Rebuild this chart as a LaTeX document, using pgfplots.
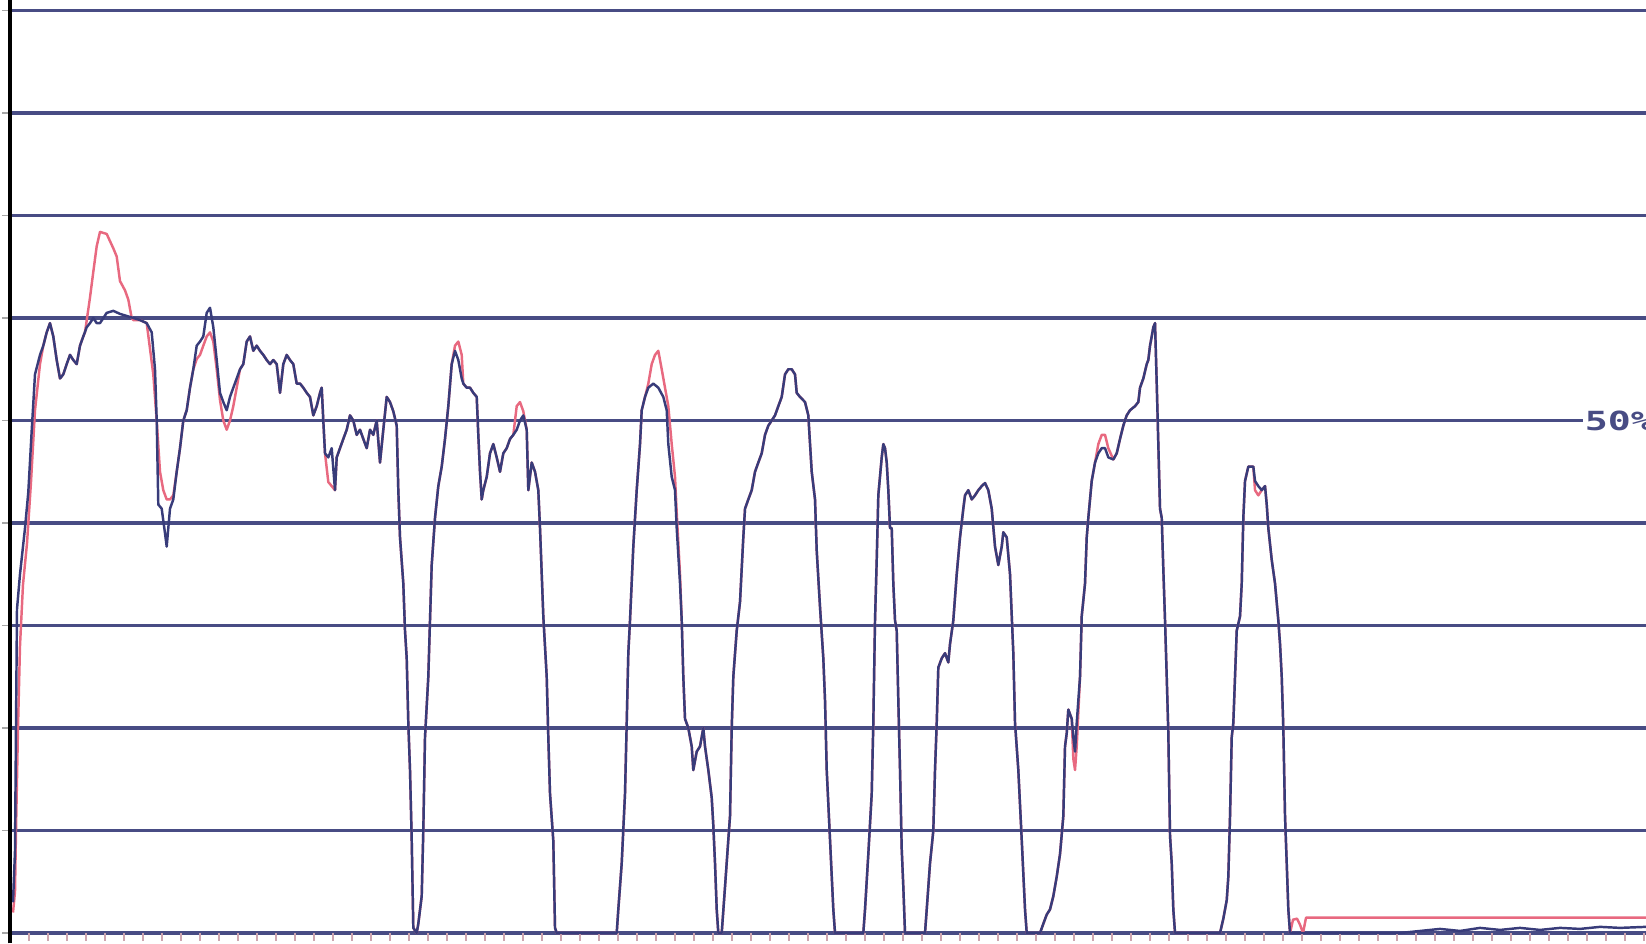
\documentclass[border=0pt]{standalone}
\usepackage{pgfplots}
\pgfplotsset{compat=1.18}
\usepackage{pgfplotstable}
\usepackage{graphicx}
\usepackage{fontspec}
\newfontfamily\labelfont{DejaVu Sans Mono}
\definecolor{gridc}{RGB}{72,76,132}
\definecolor{bluec}{RGB}{56,60,122}
\definecolor{redc}{RGB}{232,105,128}
\definecolor{tickc}{RGB}{205,165,175}

\pgfplotstableread{
x y
13 3
15 8
16 20
17 31.6
20 35
25 39.5
28.3 43
31.7 49
35 54.5
40 56.4
43.3 57.3
46.7 58.6
50 59.5
53.3 58.2
56.7 55.9
60 54.1
63.3 54.5
66.7 55.5
70 56.4
73.3 55.9
76.7 55.5
80 57.3
83.3 58.2
86.7 59.1
90 59.5
93.3 60
96.7 59.5
100 59.5
106.7 60.5
113.3 60.7
120 60.4
126.7 60.2
133.3 60
140 59.8
146.7 59.5
151.7 58.6
155 55
156.7 50
158.3 41.8
161.7 41.4
165 39
166.7 37.7
170 41.4
173.3 42.3
176.7 45
180 47.3
183.3 50
186.7 51
190 53.2
193.3 55
196.7 57.3
200 57.7
203.3 58.2
206.7 60.5
210 61
213.3 59.1
216.7 55.9
220 52.7
223.3 51.8
226.7 51
230 52.3
233.3 53.2
236.7 54.1
240 55
243.3 55.5
246.7 57.7
250 58.2
253.3 56.8
256.7 57.3
260 56.8
263.3 56.4
266.7 55.9
270 55.5
273.3 55.9
276.7 55.5
280 52.7
283.3 55.5
286.7 56.4
290 55.9
293.3 55.5
296.7 53.6
300 53.6
303.3 53.2
306.7 52.7
310 52.3
313.3 50.5
316.7 51.4
320 52.7
321.7 53.2
323.3 50
325 46.8
328.3 46.4
331.7 47.3
335 43.2
336.7 46.4
340 47.3
343.3 48.2
346.7 49.1
350 50.5
353.3 50
356.7 48.6
360 49.1
363.3 48.2
366.7 47.3
370 49.1
373.3 48.6
376.7 50
380 45.9
383.3 49.1
386.7 52.3
390 51.8
393.3 50.9
396.7 49.5
398.3 43.2
400 38.6
403.3 34.1
405 29.5
406.7 26.8
408.3 20.5
410 15.9
411.7 9.1
413.3 0.5
416.7 0
418.3 0.9
421.7 3.6
423.3 10
425 19.1
428.3 25
430 30.5
431.7 35.9
435 40.5
438.3 43.6
441.7 45.5
445 48.2
448.3 51.4
451.7 55.5
455 56.8
458.3 55.9
461.7 54.1
463.3 53.6
466.7 53.2
470 53.2
473.3 52.7
476.7 52.3
478.3 48.6
480 45
481.7 42.3
483.3 43.2
486.7 44.5
490 46.8
493.3 47.7
496.7 46.4
500 45
503.3 46.8
506.7 47.3
510 48.2
513.3 48.6
516.7 49.1
520 50
523.3 50.5
526.7 49.1
528.3 43.2
531.7 45.9
535 45
538.3 43.2
540 39.5
543.3 30.9
546.7 25
548.3 19.1
550 13.6
553.3 9
555 0.5
556.7 0
616.7 0
618.3 2.3
621.7 6.8
625 13.6
626.7 20.5
628.3 27.3
630 30.5
633.3 37.7
636.7 43.2
640 47.7
641.7 51
645 52.3
648.3 53.2
653.3 53.6
658.3 53.2
663.3 52.3
666.7 51
668.3 47.7
671.7 44.5
675 43.2
676.7 39.5
680 34.1
681.7 30.5
683.3 25
685 20.9
688.3 20
691.7 18.2
693.3 15.9
696.7 17.7
700 18.2
703.3 20
705 18.2
708.3 15.9
711.7 13.2
713.3 10.5
715 6.8
716.7 2.3
718.3 0
721.7 0
725 4.5
728.3 9.1
730 11.4
731.7 20
733.3 25
736.7 29.5
740 32.3
743.3 38.6
745 41.4
748.3 42.3
751.7 43.2
755 45
758.3 45.9
761.7 46.8
765 48.6
768.3 49.5
771.7 50
775 50.5
778.3 51.4
781.7 52.3
785 54.5
788.3 55
791.7 55
795 54.5
796.7 52.7
800 52.3
805 51.8
808.3 50.5
811.7 45
815 42.3
816.7 37.3
820 31.8
823.3 26.8
825 22.7
826.7 15.9
830 9.1
833.3 2.3
835 0
863.3 0
865 2.3
868.3 7.7
871.7 13.6
873.3 20.5
875 30.5
876.7 36.4
878.3 42.7
881.7 46.4
883.3 47.7
885 47.3
886.7 45.9
888.3 43.2
890 39.5
891.7 39.5
893.3 34.1
895 30.5
896.7 29.5
898.3 22.7
900 15.9
901.7 8.2
903.3 4.5
905 0
925 0
926.7 2.3
930 6.8
933.3 10
935 15.9
936.7 20.5
938.3 25.9
941.7 26.8
945 27.3
948.3 26.4
950 28.2
953.3 30.5
956.7 35
960 38.6
963.3 41.4
965 42.7
968.3 43.2
971.7 42.3
975 42.7
978.3 43.2
981.7 43.6
985 43.9
988.3 43.2
991.7 41.4
995 37.7
998.3 35.9
1001.7 37.7
1003.3 39.1
1006.7 38.6
1010 35
1011.7 31
1013.3 27.3
1015 20.5
1018.3 15.9
1021.7 9.1
1025 2.3
1026.7 0
1040 0
1043.3 0.9
1046.7 1.8
1050 2.3
1053.3 3.6
1056.7 5.5
1060 7.7
1063.3 11.4
1065 18.2
1066.7 19.5
1068.3 21.8
1071.7 20.9
1073.3 19.1
1075 17.7
1076.7 20.5
1080 25
1081.7 30.9
1085 34.1
1086.7 38.6
1088.3 40.5
1091.7 44.1
1095 45.9
1098.3 46.8
1101.7 47.3
1105 47.3
1108.3 46.4
1113.3 46.2
1116.7 46.8
1120 48.2
1123.3 49.5
1126.7 50.5
1130 51
1135 51.4
1138.3 51.8
1140 53.2
1143.3 54.1
1146.7 55.5
1148.3 55.9
1150 57.3
1151.7 58.2
1153.3 59.1
1155 59.5
1156.7 53.6
1158.3 47.7
1160 41.4
1161.7 40.5
1163.3 35.5
1165 30.5
1166.7 25
1168.3 19.5
1170 9.5
1171.7 6.8
1173.3 2.3
1175 0
1220 0
1223.3 1.4
1226.7 3.2
1228.3 5.5
1230 11.4
1231.7 19.1
1233.3 20.5
1235 25
1236.7 29.5
1240 30.9
1241.7 34.1
1243.3 40.5
1245 44.1
1248.3 45.5
1253.3 45.5
1255 44.1
1258.3 43.6
1261.7 43.2
1265 43.6
1266.7 41.8
1268.3 39.5
1271.7 36.4
1275 34.1
1278.3 30.5
1280 28.2
1281.7 25
1283.3 20
1285 11.4
1286.7 6.8
1288.3 2.3
1290 0
1400 0
1420 0.2
1440 0.4
1460 0.2
1480 0.5
1500 0.3
1520 0.5
1540 0.3
1560 0.5
1580 0.4
1600 0.6
1620 0.5
1646 0.6
}\bluedata

\pgfplotstableread{
x y
13 2
15 4
16 10
18 20
20 28
23 34
27 38
31 44
35 51
40 55.5
43.3 57.3
46.7 58.6
50 59.5
53.3 58.2
56.7 55.9
60 54.1
63.3 54.5
66.7 55.5
70 56.4
73.3 55.9
76.7 55.5
80 57.3
83.3 58.2
85 58.6
90 62
93.3 64.5
96.7 67
100 68.4
106.7 68.2
113.3 66.8
116.7 66
120 63.6
125 62.7
128.3 61.8
131.7 60
133.3 59.8
140 59.8
146.7 59.5
150 57
153.3 54.5
156.7 50
160 45
163.3 43.2
166.7 42.3
170 42.3
173.3 42.7
176.7 45
180 47.3
183.3 50
186.7 51
190 53.2
193.3 55
196.7 56
200 56.4
203.3 57.3
206.7 58.2
210 58.6
213.3 57.7
216.7 55
220 52
223.3 50
226.7 49.1
230 50
233.3 51.4
236.7 53.2
240 55
243.3 55.5
246.7 57.7
250 58.2
253.3 56.8
256.7 57.3
260 56.8
263.3 56.4
266.7 55.9
270 55.5
273.3 55.9
276.7 55.5
280 52.7
283.3 55.5
286.7 56.4
290 55.9
293.3 55.5
296.7 53.6
300 53.6
303.3 53.2
306.7 52.7
310 52.3
313.3 50.5
316.7 51.4
320 52.7
321.7 53.2
323.3 50
325 46.8
328.3 44
331.7 43.6
335 43.2
336.7 46.4
340 47.3
343.3 48.2
346.7 49.1
350 50.5
353.3 50
356.7 48.6
360 49.1
363.3 48.2
366.7 47.3
370 49.1
373.3 48.6
376.7 50
380 45.9
383.3 49.1
386.7 52.3
390 51.8
393.3 50.9
396.7 49.5
398.3 43.2
400 38.6
403.3 34.1
405 29.5
406.7 26.8
408.3 20.5
410 15.9
411.7 9.1
413.3 0.5
416.7 0
418.3 0.9
421.7 3.6
423.3 10
425 19.1
428.3 25
430 30.5
431.7 35.9
435 40.5
438.3 43.6
441.7 45.5
445 48.2
448.3 51.4
451.7 55.5
455 57.3
458.3 57.7
461.7 56.4
463.3 53.6
466.7 53.2
470 53.2
473.3 52.7
476.7 52.3
478.3 48.6
480 45
481.7 42.3
483.3 43.2
486.7 44.5
490 46.8
493.3 47.7
496.7 46.4
500 45
503.3 46.8
506.7 47.3
510 48.2
513.3 48.6
516.7 51.4
520 51.8
523.3 50.9
526.7 49.1
528.3 43.2
531.7 45.9
535 45
538.3 43.2
540 39.5
543.3 30.9
546.7 25
548.3 19.1
550 13.6
553.3 9
555 0.5
556.7 0
616.7 0
618.3 2.3
621.7 6.8
625 13.6
626.7 20.5
628.3 27.3
630 30.5
633.3 37.7
636.7 43.2
640 47.7
641.7 51
645 52.3
648.3 53.6
651.7 55.5
655 56.4
658.3 56.8
661.7 55
665 53.2
668.3 51.4
671.7 47.7
675 44.5
676.7 41
680 35
681.7 30.5
683.3 25
685 20.9
688.3 20
691.7 18.2
693.3 15.9
696.7 17.7
700 18.2
703.3 20
705 18.2
708.3 15.9
711.7 13.2
713.3 10.5
715 6.8
716.7 2.3
718.3 0
721.7 0
725 4.5
728.3 9.1
730 11.4
731.7 20
733.3 25
736.7 29.5
740 32.3
743.3 38.6
745 41.4
748.3 42.3
751.7 43.2
755 45
758.3 45.9
761.7 46.8
765 48.6
768.3 49.5
771.7 50
775 50.5
778.3 51.4
781.7 52.3
785 54.5
788.3 55
791.7 55
795 54.5
796.7 52.7
800 52.3
805 51.8
808.3 50.5
811.7 45
815 42.3
816.7 37.3
820 31.8
823.3 26.8
825 22.7
826.7 15.9
830 9.1
833.3 2.3
835 0
863.3 0
865 2.3
868.3 7.7
871.7 13.6
873.3 20.5
875 30.5
876.7 36.4
878.3 42.7
881.7 46.4
883.3 47.7
885 47.3
886.7 45.9
888.3 43.2
890 39.5
891.7 39.5
893.3 34.1
895 30.5
896.7 29.5
898.3 22.7
900 15.9
901.7 8.2
903.3 4.5
905 0
925 0
926.7 2.3
930 6.8
933.3 10
935 15.9
936.7 20.5
938.3 25.9
941.7 26.8
945 27.3
948.3 26.4
950 28.2
953.3 30.5
956.7 35
960 38.6
963.3 41.4
965 42.7
968.3 43.2
971.7 42.3
975 42.7
978.3 43.2
981.7 43.6
985 43.9
988.3 43.2
991.7 41.4
995 37.7
998.3 35.9
1001.7 37.7
1003.3 39.1
1006.7 38.6
1010 35
1011.7 31
1013.3 27.3
1015 20.5
1018.3 15.9
1021.7 9.1
1025 2.3
1026.7 0
1040 0
1043.3 0.9
1046.7 1.8
1050 2.3
1053.3 3.6
1056.7 5.5
1060 7.7
1063.3 11.4
1065 18.2
1066.7 19.5
1068.3 21.8
1071.7 20.9
1073.3 17
1075 15.9
1076.7 18.2
1080 25
1081.7 30.9
1085 34.1
1086.7 38.6
1088.3 40.5
1091.7 44.1
1095 45.9
1098.3 47.7
1101.7 48.6
1105 48.6
1108.3 47.3
1113.3 46.2
1116.7 46.8
1120 48.2
1123.3 49.5
1126.7 50.5
1130 51
1135 51.4
1138.3 51.8
1140 53.2
1143.3 54.1
1146.7 55.5
1148.3 55.9
1150 57.3
1151.7 58.2
1153.3 59.1
1155 59.5
1156.7 53.6
1158.3 47.7
1160 41.4
1161.7 40.5
1163.3 35.5
1165 30.5
1166.7 25
1168.3 19.5
1170 9.5
1171.7 6.8
1173.3 2.3
1175 0
1220 0
1223.3 1.4
1226.7 3.2
1228.3 5.5
1230 11.4
1231.7 19.1
1233.3 20.5
1235 25
1236.7 29.5
1240 30.9
1241.7 34.1
1243.3 40.5
1245 44.1
1248.3 45.5
1253.3 45.5
1255 43.2
1258.3 42.7
1261.7 43.2
1265 43.6
1266.7 41.8
1268.3 39.5
1271.7 36.4
1275 34.1
1278.3 30.5
1280 28.2
1281.7 25
1283.3 20
1285 11.4
1286.7 6.8
1288.3 2.3
1290 0
1293 1.3
1297 1.4
1300 0.8
1303 0
1306 1.5
1646 1.5
}\reddata

\begin{document}
\begin{tikzpicture}
\useasboundingbox (0,0) rectangle (164.6mm,94.3mm);
\clip (0,0) rectangle (164.6mm,94.3mm);
\begin{axis}[
  at={(1mm,1mm)}, anchor=south west,
  x=0.1mm, y=1.025mm,
  xmin=10, xmax=1646, ymin=0, ymax=91,
  clip=false,
  axis line style={draw=none},
  ytick={0,10,...,90}, yticklabels={},
  ymajorgrids,
  grid style={gridc, line width=1pt},
  xtick={10,29,...,1646}, xticklabels={},
  xtick pos=bottom, ytick pos=left, tick align=outside,
  major tick length=0.8mm,
  xtick style={tickc, line width=0.5pt},
  ytick style={black!35, line width=0.5pt},
]
\addplot[redc, line width=0.7pt, line join=round] table[x=x,y=y] {\reddata};
\addplot[bluec, line width=0.7pt, line join=round] table[x=x,y=y] {\bluedata};
\draw[black, line width=1.1pt] (axis cs:10,-1) -- (axis cs:10,92);
\node[anchor=west, fill=white, inner xsep=0.6pt, inner ysep=0pt, text=gridc,
      font=\labelfont\bfseries\fontsize{7.5}{8}\selectfont]
  at (axis cs:1582,50) {\scalebox{1.45}[1]{50\%}};
\end{axis}
\end{tikzpicture}
\end{document}
